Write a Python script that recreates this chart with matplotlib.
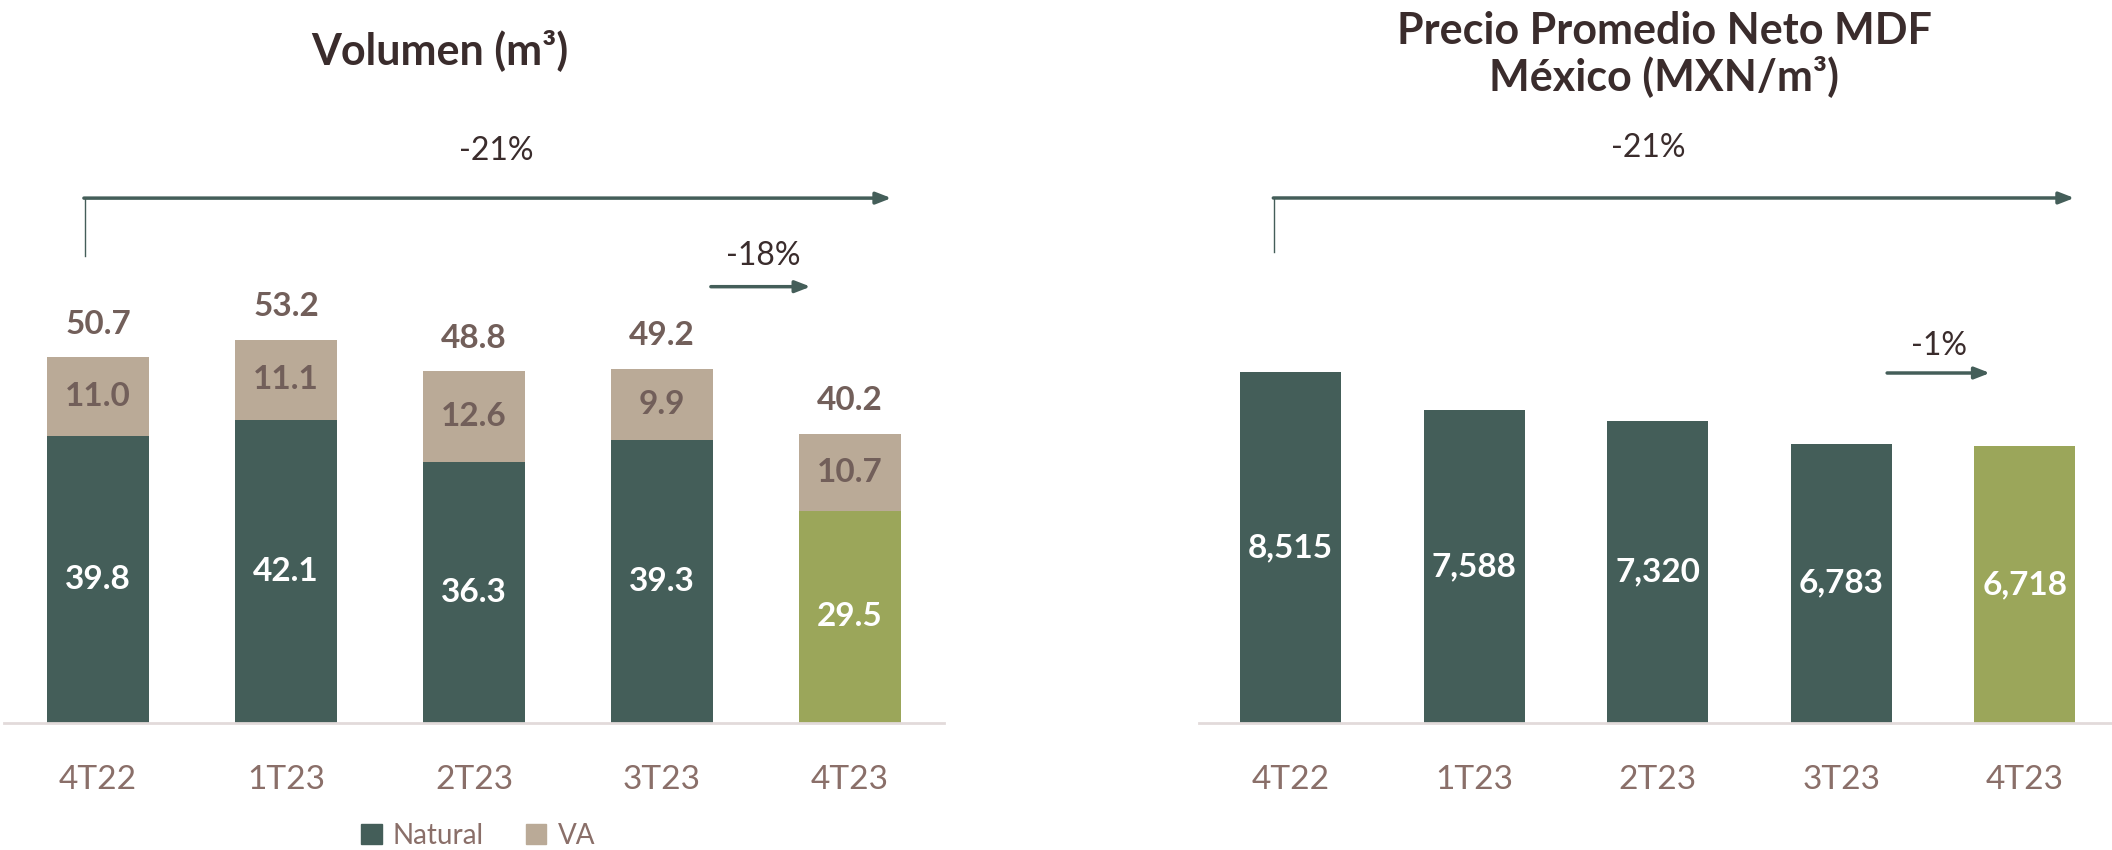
import matplotlib.pyplot as plt
from matplotlib.patches import Patch

plt.rcParams['font.family'] = ['Lato', 'DejaVu Sans']

quarters = ['4T22', '1T23', '2T23', '3T23', '4T23']
natural = [39.8, 42.1, 36.3, 39.3, 29.5]
va = [11.0, 11.1, 12.6, 9.9, 10.7]
totals = [50.7, 53.2, 48.8, 49.2, 40.2]
precio = [8515, 7588, 7320, 6783, 6718]

dark = '#445E59'
tan = '#BAAA97'
olive = '#9BA65A'
brown = '#725F5A'
tick_col = '#8A6F69'
title_col = '#3A2C2C'

fig = plt.figure(figsize=(21.12, 8.5), dpi=100)
W, H = 2112, 850

# left: volume stacked bars
ax1 = fig.add_axes([4 / W, 127 / H, 940 / W, 600 / H])
x = range(len(quarters))
nat_colors = [dark] * 4 + [olive]
ax1.bar(x, natural, width=0.54, color=nat_colors)
ax1.bar(x, va, bottom=natural, width=0.54, color=tan)
for i in x:
    ax1.text(i, natural[i] / 2, f'{natural[i]:.1f}', ha='center', va='center',
             color='white', fontsize=24, fontweight='bold')
    ax1.text(i, natural[i] + va[i] / 2, f'{va[i]:.1f}', ha='center', va='center',
             color=brown, fontsize=24, fontweight='bold')
    ax1.annotate(f'{totals[i]:.1f}', (i, totals[i]), xytext=(0, 24),
                 textcoords='offset points', ha='center', va='center',
                 color=brown, fontsize=24, fontweight='bold')
ax1.set_xlim(-0.5, 4.5)
ax1.set_ylim(0, 600 / 7.2)

arrow = dict(arrowstyle='-|>,head_length=0.9,head_width=0.35',
             color=dark, lw=2.5, shrinkA=0, shrinkB=0)

# growth arrows
ax1.plot([-0.07, -0.07], [64.9, 72.9], color=dark, lw=1)
ax1.annotate('', xy=(4.22, 72.9), xytext=(-0.075, 72.9), arrowprops=arrow)
ax1.text(2.12, 79.4, '-21%', ha='center', va='center', fontsize=23, color=title_col)
ax1.annotate('', xy=(3.79, 60.6), xytext=(3.26, 60.6), arrowprops=arrow)
ax1.text(3.54, 64.9, '-18%', ha='center', va='center', fontsize=23, color=title_col)

# right: price bars
ax2 = fig.add_axes([1199 / W, 127 / H, 917.5 / W, 600 / H])
price_colors = [dark] * 4 + [olive]
ax2.bar(x, precio, width=0.55, color=price_colors)
for i in x:
    ax2.text(i, precio[i] / 2, f'{precio[i]:,}', ha='center', va='center',
             color='white', fontsize=24, fontweight='bold')
ax2.set_xlim(-0.5, 4.5)
ax2.set_ylim(0, 600 / 0.0412)

ax2.plot([-0.09, -0.09], [11432, 12743], color=dark, lw=1)
ax2.annotate('', xy=(4.27, 12743), xytext=(-0.095, 12743), arrowprops=arrow)
ax2.text(1.95, 13956, '-21%', ha='center', va='center', fontsize=23, color=title_col)
ax2.annotate('', xy=(3.81, 8495), xytext=(3.25, 8495), arrowprops=arrow)
ax2.text(3.53, 9150, '-1%', ha='center', va='center', fontsize=23, color=title_col)

for ax in (ax1, ax2):
    ax.set_xticks(list(x))
    ax.set_xticklabels(quarters, fontsize=24, color=tick_col)
    ax.tick_params(axis='x', length=0, pad=30)
    ax.set_yticks([])
    for s in ['top', 'right', 'left']:
        ax.spines[s].set_visible(False)
    ax.spines['bottom'].set_color('#E2DADA')
    ax.spines['bottom'].set_linewidth(2)
    ax.patch.set_alpha(0)

fig.text(440 / W, 1 - 50 / H, 'Volumen (m³)', ha='center', va='center',
         fontsize=31, fontweight='bold', color=title_col)
fig.text(1664 / W, 1 - 54 / H, 'Precio Promedio Neto MDF\nMéxico (MXN/m³)',
         ha='center', va='center', fontsize=31, fontweight='bold',
         color=title_col, linespacing=1.1)

handles = [Patch(color=dark, label='Natural'), Patch(color=tan, label='VA')]
fig.legend(handles=handles, loc='center', bbox_to_anchor=(478 / W, 1 - 836 / H),
           ncol=2, frameon=False, fontsize=20, labelcolor=tick_col,
           handlelength=0.75, handleheight=0.75, handletextpad=0.4, columnspacing=1.5)

fig.savefig('out.png', dpi=100)
